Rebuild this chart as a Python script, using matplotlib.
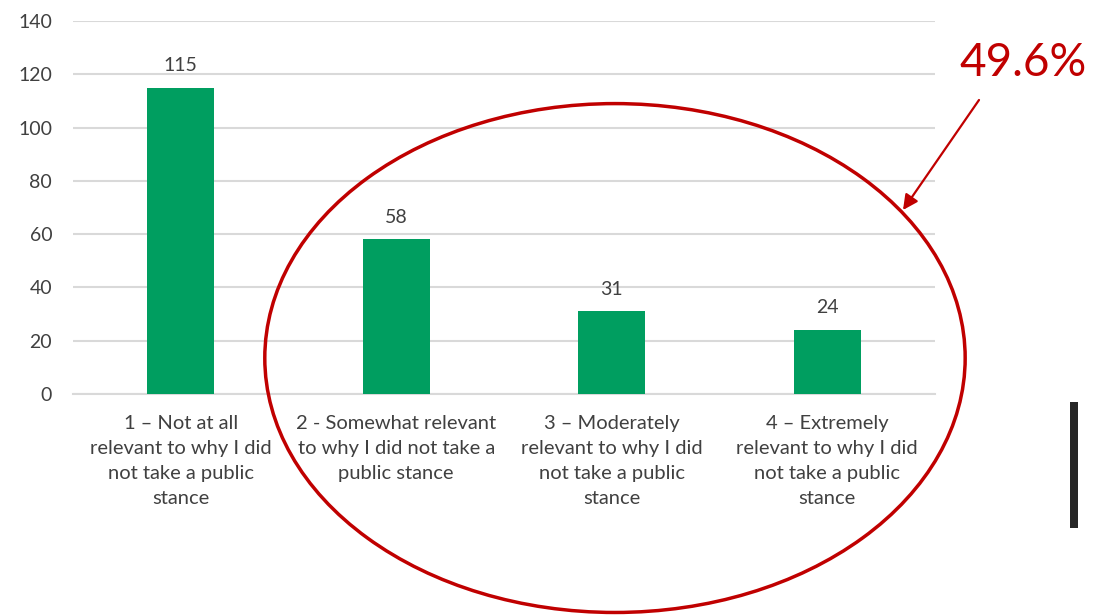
import matplotlib
matplotlib.use("Agg")
import matplotlib.pyplot as plt
from matplotlib.patches import Ellipse, Rectangle

plt.rcParams['font.family'] = ['Lato', 'DejaVu Sans']

categories = [
    "1 – Not at all\nrelevant to why I did\nnot take a public\nstance",
    "2 - Somewhat relevant\nto why I did not take a\npublic stance",
    "3 – Moderately\nrelevant to why I did\nnot take a public\nstance",
    "4 – Extremely\nrelevant to why I did\nnot take a public\nstance",
]
counts = [115, 58, 31, 24]
y_ticks = [0, 20, 40, 60, 80, 100, 120, 140]
share_label = "49.6%"

GREEN = "#009E60"
RED = "#C00000"
TEXT = "#404040"
GRID = "#D9D9D9"

fig = plt.figure(figsize=(10.94, 6.15), dpi=100)
ax = fig.add_axes([73 / 1094, 1 - 394 / 615, (935 - 73) / 1094, (394 - 21) / 615])

x = list(range(len(categories)))
bars = ax.bar(x, counts, width=0.31, color=GREEN, zorder=3)
for xi, v in zip(x, counts):
    ax.annotate(str(v), (xi, v), xytext=(0, 10), textcoords="offset points",
                ha="center", va="bottom", fontsize=14, color=TEXT)

ax.set_xlim(-0.5, len(categories) - 0.5)
ax.set_ylim(0, 140)
ax.set_yticks(y_ticks)
ax.set_xticks(x)
ax.set_xticklabels(categories, fontsize=14.5, color=TEXT, linespacing=1.58)
ax.tick_params(axis="y", labelsize=14, labelcolor=TEXT, length=0, pad=15)
ax.tick_params(axis="x", length=0, pad=15)
ax.grid(axis="y", color=GRID, linewidth=1.5, zorder=0)
for side in ("top", "right", "left"):
    ax.spines[side].set_visible(False)
ax.spines["bottom"].set_color(GRID)
ax.spines["bottom"].set_linewidth(1.5)

# Highlight ring around categories 2-4
ring = Ellipse((2.015, 13.5), width=3.25, height=191, fill=False,
               edgecolor=RED, linewidth=2.5, clip_on=False, zorder=5)
ax.add_patch(ring)

# Callout text and arrow
fig.text(1023 / 1094, 1 - 63 / 615, share_label, fontsize=33, color=RED,
         ha="center", va="center")
ax.annotate("", xy=(903 / 1094, 1 - 210 / 615), xycoords="figure fraction",
            xytext=(979 / 1094, 1 - 100 / 615), textcoords="figure fraction",
            arrowprops=dict(arrowstyle="-|>,head_length=0.9,head_width=0.45",
                            color=RED, linewidth=1.6, shrinkA=0, shrinkB=0))

# Vertical dark marker at the right edge
fig.patches.append(Rectangle((1070 / 1094, 1 - 528 / 615), 8 / 1094, 126 / 615,
                             transform=fig.transFigure, facecolor="#262626",
                             edgecolor="none"))

fig.savefig("out.png", dpi=100)
